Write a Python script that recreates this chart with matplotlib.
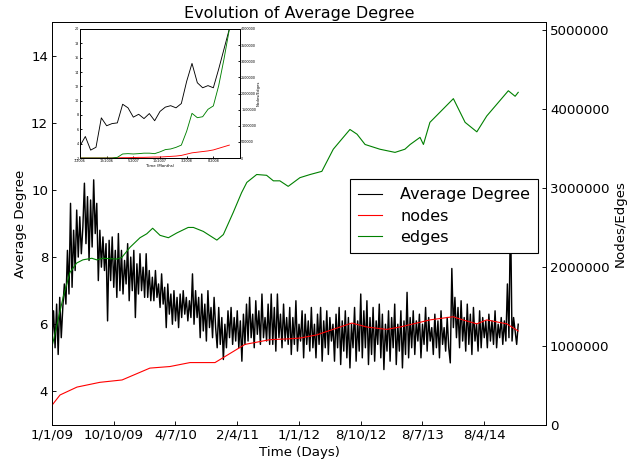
import numpy as np
import matplotlib
matplotlib.use('Agg')
import matplotlib.pyplot as plt

# %% main series: average degree per day (one value every 5 days)
avg_degree = [
    5.5, 6.4, 5.3,
    6.6, 5.1, 6.8, 5.6, 6.5,
    7.2, 6.6, 8.2, 6.9,
    9.6, 7.1, 8.8,
    7.6, 9.4, 8.0,
    9.2, 8.1, 8.9,
    10.2, 8.4, 9.8,
    7.9, 9.7, 8.3,
    10.3, 8.7,
    9.6, 7.3, 8.8,
    7.7, 8.6, 7.6, 8.4,
    6.1, 8.5, 7.3,
    8.6, 7.1, 8.2,
    6.8, 8.7, 7.0,
    8.2, 6.9, 7.9, 7.2,
    8.4, 6.7, 8.0, 7.0,
    8.2, 6.2, 7.8,
    6.9, 8.1, 7.0, 7.7, 6.8,
    8.1, 6.8, 7.6, 6.7, 7.4,
    6.7, 7.6, 6.8, 7.2,
    6.5, 7.5, 6.6, 7.1,
    5.9, 7.2, 6.3, 6.9, 6.0,
    7.0, 6.1, 6.8, 5.9,
    6.9, 6.2, 7.0, 6.3, 6.8, 6.1, 6.7,
    6.2, 7.5, 6.0, 7.0, 6.2, 6.8,
    5.6, 6.9, 5.8, 6.6, 5.5, 7.0, 5.9, 6.5, 5.6, 6.8, 5.9,
    5.3, 6.5, 5.4, 6.2, 4.95, 6.0,
    5.3, 6.4, 5.6, 6.5, 5.4, 6.2, 5.5, 6.4, 5.3, 6.1, 4.9,
    6.3, 5.4, 6.6, 5.5, 6.8, 5.6, 6.3, 5.3, 6.7, 5.7, 6.4, 5.4, 6.9, 5.6, 6.2, 5.5, 6.6, 5.4, 6.9,
    5.4, 6.5, 5.2, 6.9, 5.6, 6.3, 5.3, 6.6, 5.5, 6.2, 5.4,
    6.5, 5.1, 6.2, 5.4, 6.7, 5.2, 6.0, 5.5, 6.4, 5.0, 6.3, 5.4, 6.1, 5.2, 6.5, 5.3, 6.0,
    5.0, 6.3, 5.4, 6.5, 4.9, 6.1, 5.3, 6.4, 5.1, 6.2, 5.5, 6.0, 4.9, 6.3, 5.3,
    6.5, 4.8, 6.1, 5.2, 6.4, 5.0, 6.2, 4.7, 6.0, 5.3, 6.5, 4.9, 6.1, 5.2, 6.9,
    5.0, 6.4, 5.3, 6.7, 4.8, 6.2, 5.1, 6.5, 4.9, 6.1, 5.4, 6.6, 5.0, 6.3, 4.65, 6.0, 5.2,
    6.4, 4.9, 6.2, 5.3, 6.6, 4.8, 6.0, 5.2, 6.4, 4.7, 6.1, 5.1, 6.95, 5.0, 6.2,
    5.3, 6.4, 5.1, 6.1, 5.5, 6.3, 5.0, 6.0, 5.4, 6.5, 5.2, 6.2, 5.5, 5.9, 5.1, 6.3,
    5.3, 6.1, 5.0, 6.4, 5.4, 5.9, 5.2, 6.2, 5.3, 4.85,
    7.66, 5.9,
    6.8, 5.6, 6.5, 5.3, 6.7, 5.5, 6.2, 5.2, 6.6, 5.4,
    6.3, 5.1, 6.5, 5.5, 6.0, 5.2, 6.4, 5.3, 6.2, 5.6, 6.1,
    5.3, 6.3, 5.5, 6.1, 5.4, 6.4, 5.3, 6.0, 5.6, 6.2, 5.4, 6.1, 5.5,
    7.2, 5.6,
    9.5,
    5.5, 6.2, 5.8, 5.4, 6.0,
]
days = np.arange(len(avg_degree)) * 5

# nodes / edges (day index, count)
edge_days = [0, 37, 58, 80, 100, 129, 145, 165, 210, 226, 253, 285, 307, 326, 350, 377,
             404, 441, 458, 490, 522, 534, 555, 587, 614, 631, 663, 695, 717, 738, 765,
             803, 836, 874, 911, 939, 965, 988, 1014, 1062, 1111, 1143, 1160, 1192, 1203,
             1224, 1257, 1300, 1338, 1376, 1408, 1478, 1500, 1510]
edges = [990000, 1630000, 1930000, 2050000, 2090000, 2110000, 2090000, 2110000, 2100000,
         2120000, 2250000, 2370000, 2420000, 2490000, 2400000, 2370000, 2430000, 2500000,
         2500000, 2450000, 2370000, 2340000, 2410000, 2690000, 2940000, 3070000, 3170000,
         3160000, 3090000, 3090000, 3020000, 3130000, 3170000, 3210000, 3490000, 3620000,
         3740000, 3680000, 3550000, 3490000, 3450000, 3490000, 3550000, 3640000, 3550000,
         3830000, 3960000, 4130000, 3830000, 3710000, 3910000, 4230000, 4160000, 4210000]

node_days = [0, 26, 81, 155, 227, 317, 382, 447, 528, 625, 706, 767, 803, 857, 933, 971,
             1020, 1084, 1127, 1192, 1224, 1299, 1331, 1376, 1408, 1473, 1510]
nodes = [250000, 380000, 480000, 540000, 570000, 720000, 740000, 790000, 790000, 1020000,
         1080000, 1090000, 1100000, 1140000, 1240000, 1290000, 1240000, 1210000, 1240000,
         1300000, 1330000, 1370000, 1330000, 1280000, 1330000, 1280000, 1190000]

xtick_pos = [0, 200, 400, 600, 800, 1000, 1200, 1400]
xtick_labels = ['1/1/09', '10/10/09', '4/7/10', '2/4/11', '1/1/12', '8/10/12', '8/7/13', '8/4/14']

# %% inset series: monthly values
inset_degree = [3.7, 5.0, 3.1, 3.5, 7.6, 6.5, 6.8, 6.9, 9.5, 9.0, 7.7, 8.1, 7.5, 8.2, 7.2,
                8.5, 9.1, 9.3, 9.0, 9.6, 12.7, 15.2, 12.5, 11.8, 12.1, 11.8, 14.4, 17.2, 20.0]
inset_edges = [0, 0, 0, 0, 0, 0, 0, 20000, 125000, 135000, 125000, 135000, 150000, 150000,
               135000, 190000, 260000, 280000, 330000, 400000, 830000, 1385000, 1250000,
               1280000, 1510000, 1615000, 2240000, 3070000, 3990000]
inset_nodes = [0, 0, 0, 0, 0, 0, 0, 5000, 10000, 10000, 15000, 20000, 20000, 25000, 30000,
               30000, 40000, 50000, 60000, 80000, 120000, 160000, 180000, 200000, 220000,
               250000, 300000, 350000, 400000]
months = np.arange(len(inset_degree))
inset_tick_labels = ['7/2006', '12/2006', '5/2007', '10/2007', '3/2008', '8/2008']

# %% main figure
plt.rcParams['xtick.direction'] = 'in'
plt.rcParams['ytick.direction'] = 'in'
plt.rcParams['font.size'] = 12

fig = plt.figure(figsize=(639 / 80, 464 / 80), dpi=80)
ax = fig.add_axes([52 / 639, 39 / 464, 494 / 639, 403 / 464])
ax2 = ax.twinx()

l1, = ax.plot(days, avg_degree, color='black', lw=1.3, label='Average Degree')
l2, = ax2.plot(node_days, nodes, color='red', lw=1.0, label='nodes')
l3, = ax2.plot(edge_days, edges, color='green', lw=1.0, label='edges')

ax.set_xlim(0, 1600)
ax.set_ylim(3, 15)
ax2.set_ylim(0, 5100000)
ax.set_xticks(xtick_pos)
ax.set_xticklabels(xtick_labels)
ax.set_yticks([4, 6, 8, 10, 12, 14])
ax2.set_yticks([0, 1000000, 2000000, 3000000, 4000000, 5000000])
ax2.ticklabel_format(axis='y', style='plain', useOffset=False)
ax.tick_params(length=4, labelsize=12)
ax2.tick_params(length=4, labelsize=12)

ax.set_xlabel('Time (Days)', fontsize=12)
ax.set_ylabel('Average Degree', fontsize=12)
ax2.set_ylabel('Nodes/Edges', fontsize=12)
ax.set_title('Evolution of Average Degree', fontsize=14.4, pad=4)

leg = ax2.legend([l1, l2, l3], ['Average Degree', 'nodes', 'edges'],
                 loc='upper right', bbox_to_anchor=(0.984, 0.61), borderaxespad=0,
                 fontsize=14.4, fancybox=False, shadow=False, handlelength=1.5,
                 handletextpad=1.1, labelspacing=0.4, borderpad=0.5, framealpha=1)
leg.get_frame().set_edgecolor('black')
for h in leg.get_lines():
    h.set_linewidth(1.0)

# %% inset
axi = fig.add_axes([80 / 639, 306 / 464, 160 / 639, 129 / 464])
axi2 = axi.twinx()
axi.plot(months, inset_degree, color='black', lw=0.8)
axi2.plot(months, inset_nodes, color='red', lw=0.8)
axi2.plot(months, inset_edges, color='green', lw=0.8)
axi.set_xlim(0, 30)
axi.set_ylim(2, 20)
axi2.set_ylim(0, 4000000)
axi.set_xticks([0, 5, 10, 15, 20, 25])
axi.set_xticklabels(inset_tick_labels)
axi.set_yticks(np.arange(2, 21, 2))
axi2.set_yticks(np.arange(0, 4000001, 500000))
axi2.ticklabel_format(axis='y', style='plain', useOffset=False)
axi.tick_params(length=2, labelsize=3, pad=1)
axi2.tick_params(length=2, labelsize=3, pad=1)
axi.set_xlabel('Time (Months)', fontsize=3.5, labelpad=1)
axi2.set_ylabel('Nodes/Edges', fontsize=3.5, labelpad=1)

fig.savefig('out.png', dpi=80)
